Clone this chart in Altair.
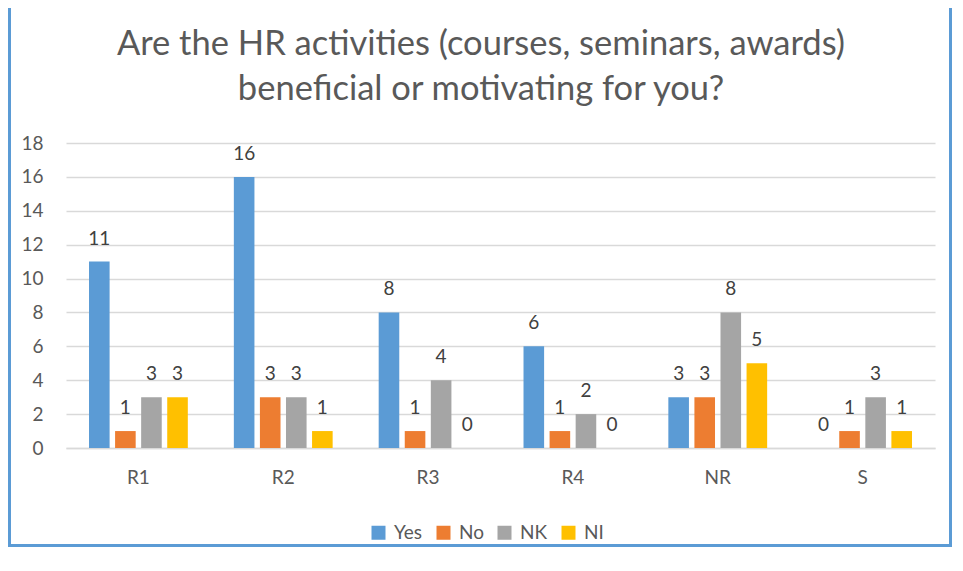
import altair as alt
import pandas as pd

categories = ["R1", "R2", "R3", "R4", "NR", "S"]
series = ["Yes", "No", "NK", "NI"]
yes_vals = [11, 16, 8, 6, 3, 0]
no_vals = [1, 3, 1, 1, 3, 1]
nk_vals = [3, 3, 4, 2, 8, 3]
ni_vals = [3, 1, 0, 0, 5, 1]
colors = ["#5B9BD5", "#ED7D31", "#A5A5A5", "#FFC000"]
y_ticks = [0, 2, 4, 6, 8, 10, 12, 14, 16, 18]
title_lines = ["Are the HR activities (courses, seminars, awards)",
               "beneficial or motivating for you?"]

rows = []
for s, vals in zip(series, [yes_vals, no_vals, nk_vals, ni_vals]):
    for c, v in zip(categories, vals):
        rows.append({"cat": c, "series": s, "value": v})
df = pd.DataFrame(rows)

FONT = "Lato"
PW, PH = 869, 305
PL, PT, PR, PB = 58, 135, 18, 100

x_enc = alt.X("cat:N", sort=categories,
              scale=alt.Scale(paddingInner=0.28, paddingOuter=0.14),
              axis=alt.Axis(title=None, labelAngle=0, labelFontSize=19,
                            labelColor="#595959", labelFont=FONT,
                            labelPadding=20, ticks=False, domain=True,
                            domainColor="#D9D9D9", domainWidth=1.5, grid=False))
xo_enc = alt.XOffset("series:N", sort=series,
                     scale=alt.Scale(paddingInner=0.21, paddingOuter=0.105))
y_enc = alt.Y("value:Q",
              scale=alt.Scale(domain=[0, 18], nice=False),
              axis=alt.Axis(title=None, values=y_ticks, labelFontSize=19,
                            labelColor="#595959", labelFont=FONT,
                            labelOverlap=False, labelFlush=False,
                            labelPadding=23, ticks=False, domain=False,
                            gridColor="#D9D9D9", gridWidth=1.5))

base = alt.Chart(df).encode(x=x_enc, xOffset=xo_enc, y=y_enc)

bars = base.mark_bar().encode(
    color=alt.Color("series:N", sort=series,
                    scale=alt.Scale(domain=series, range=colors),
                    legend=alt.Legend(title=None, orient="none", direction="horizontal",
                                      legendX=303, legendY=380,
                                      symbolType="square", symbolSize=196,
                                      symbolStrokeWidth=0,
                                      labelFontSize=19, labelFont=FONT,
                                      labelColor="#595959", labelOffset=6,
                                      columnPadding=11)),
)

labels = base.mark_text(baseline="alphabetic", dy=-17, fontSize=19,
                        font=FONT, color="#404040").encode(
    text=alt.Text("value:Q"),
)

deco_df = pd.DataFrame({"k": [0]})
title_mark = alt.Chart(deco_df).mark_text(
    fontSize=34.5, font=FONT, color="#595959", baseline="alphabetic",
    align="center", lineHeight=45
).encode(
    text=alt.value(title_lines),
    x=alt.value(415),
    y=alt.value(-88),
)

border_color = "#5B9BD5"
left_b = alt.Chart(deco_df).mark_rule(color=border_color, strokeWidth=3).encode(
    x=alt.value(-PL + 1.5), y=alt.value(-PT), y2=alt.value(PH + PB - 1))
right_b = alt.Chart(deco_df).mark_rule(color=border_color, strokeWidth=3).encode(
    x=alt.value(PW + PR - 2.5), y=alt.value(-PT), y2=alt.value(PH + PB - 1))
bottom_b = alt.Chart(deco_df).mark_rule(color=border_color, strokeWidth=3).encode(
    x=alt.value(-PL), x2=alt.value(PW + PR - 1), y=alt.value(PH + PB - 2.5))

chart = alt.layer(bars, labels, title_mark, left_b, right_b, bottom_b).properties(
    width=PW, height=PH,
    padding={"left": PL, "top": PT, "right": PR, "bottom": PB},
    autosize=alt.AutoSizeParams(type="none"),
).configure(background="white").configure_view(strokeWidth=0)

chart.save("out.html", embed_options={"renderer": "svg", "actions": False})
